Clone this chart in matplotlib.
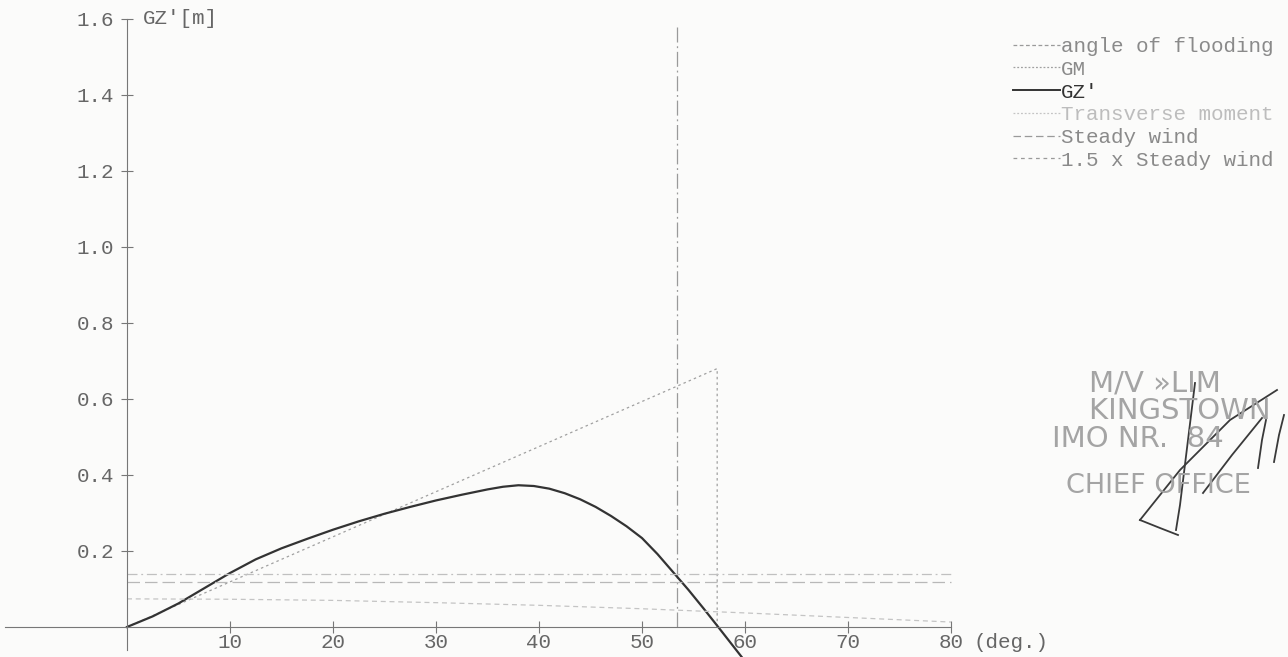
import matplotlib.pyplot as plt
from matplotlib.lines import Line2D

# values
heel = [0, 2.5, 5, 7.5, 10, 12.5, 15, 17.5, 20, 22.5, 25, 27.5, 30, 32.5,
        35, 36.5, 38, 39.5, 41, 42.5, 44, 45.5, 47, 48.5, 50, 51.5, 53,
        54.5, 56, 57.4, 60]
gz = [0, 0.028, 0.062, 0.102, 0.142, 0.178, 0.207, 0.232, 0.256, 0.278,
      0.298, 0.316, 0.333, 0.348, 0.362, 0.369, 0.373, 0.371, 0.364, 0.352,
      0.336, 0.316, 0.292, 0.265, 0.234, 0.192, 0.145, 0.098, 0.048, 0.0,
      -0.09]

gm_x = [0, 57.3, 57.3]
gm_y = [0, 0.68, 0]

flood_angle = 53.4
flood_top = 1.58

trans_x = [0, 10, 20, 30, 40, 50, 60, 70, 80]
trans_y = [0.074, 0.073, 0.070, 0.064, 0.057, 0.048, 0.037, 0.025, 0.013]

wind_x = [0, 80]
steady_wind = 0.118
wind_15 = 0.139

xticks = [10, 20, 30, 40, 50, 60, 70, 80]
yticks = [0.2, 0.4, 0.6, 0.8, 1.0, 1.2, 1.4, 1.6]

FONT = 'Liberation Mono'
W, H = 1288, 657

fig = plt.figure(figsize=(12.88, 6.57), dpi=100)
fig.patch.set_facecolor('#fbfbfa')
ax = fig.add_axes([0, 0, 1, 1])
ax.set_facecolor('#fbfbfa')
ax.set_xlim(-12.33, 112.72)
ax.set_ylim(-0.079, 1.65)

ax.plot([flood_angle, flood_angle], [0, flood_top], color='#9a9a9a',
        lw=0.9, ls=(0, (12, 3, 1.5, 3)))
ax.plot(gm_x, gm_y, color='#a0a0a0', lw=0.9, ls=(0, (2, 2.5)))
ax.plot(heel, gz, color='#333333', lw=1.6)
ax.plot(trans_x, trans_y, color='#c4c4c4', lw=0.9, ls=(0, (4, 3)))
ax.plot(wind_x, [steady_wind, steady_wind], color='#b8b8b8', lw=0.9,
        ls=(0, (10, 4)))
ax.plot(wind_x, [wind_15, wind_15], color='#c0c0c0', lw=0.9,
        ls=(0, (8, 3, 1.5, 3)))

for side in ['top', 'right']:
    ax.spines[side].set_visible(False)
ax.spines['left'].set_position(('data', 0))
ax.spines['bottom'].set_position(('data', 0))
ax.spines['left'].set_bounds(-0.06, 1.6)
ax.spines['bottom'].set_bounds(-11.8, 80)
ax.spines['left'].set_color('#777777')
ax.spines['bottom'].set_color('#777777')

ax.set_xticks(xticks)
ax.set_xticklabels([str(t) for t in xticks])
ax.set_yticks(yticks)
ax.set_yticklabels(['%.1f' % t for t in yticks])
ax.tick_params(direction='inout', length=9, width=0.8, color='#777777',
               labelcolor='#666666', labelsize=15)
ax.tick_params(axis='y', pad=5)
ax.tick_params(axis='x', pad=0)
for lab in ax.get_xticklabels() + ax.get_yticklabels():
    lab.set_fontfamily(FONT)

ax.text(1.5, 1.6, "GZ'[m]", fontfamily=FONT, fontsize=15, color='#666666',
        va='center', ha='left')
ax.text(82.2, -0.041, "(deg.)", fontfamily=FONT, fontsize=15, color='#666666',
        va='center', ha='left')

# legend handles as drawn in the reference's key
handles = [
    Line2D([], [], color='#9a9a9a', lw=0.9, ls=(0, (3, 2))),
    Line2D([], [], color='#a0a0a0', lw=0.9, ls=(0, (1.5, 1.5))),
    Line2D([], [], color='#333333', lw=1.4),
    Line2D([], [], color='#c4c4c4', lw=0.9, ls=(0, (1.5, 1.5))),
    Line2D([], [], color='#9a9a9a', lw=0.9, ls=(0, (6, 3))),
    Line2D([], [], color='#9a9a9a', lw=0.9, ls=(0, (3, 3))),
]
labels = ['angle of flooding', 'GM', "GZ'", 'Transverse moment', 'Steady wind',
          '1.5 x Steady wind']
leg = ax.legend(handles, labels,
                loc='upper left', bbox_to_anchor=(1013 / W, 1 - 37 / H),
                bbox_transform=fig.transFigure, frameon=False,
                prop={'family': FONT, 'size': 15}, handlelength=2.25,
                handletextpad=0.05, labelspacing=0.18, borderpad=0, borderaxespad=0)
text_cols = ['#8a8a8a', '#8a8a8a', '#333333', '#bdbdbd', '#8a8a8a', '#8a8a8a']
for t, c in zip(leg.get_texts(), text_cols):
    t.set_color(c)

# ship's stamp on the scan
fig.text(1052 / W, 1 - 369 / H, "    M/V »LIM\n    KINGSTOWN\nIMO NR.  84",
         fontfamily='DejaVu Sans', fontsize=21, color='#a4a4a4', va='top',
         ha='left', linespacing=1.0)
fig.text(1066 / W, 1 - 486 / H, "CHIEF OFFICE", fontfamily='DejaVu Sans',
         fontsize=19.5, color='#a4a4a4', va='center', ha='left')
# signature strokes across the stamp
sig = [[(1140, 520), (1180, 470), (1230, 420), (1277, 390)],
       [(1195, 383), (1188, 440), (1180, 505), (1176, 530)],
       [(1140, 520), (1160, 528), (1178, 535)],
       [(1203, 493), (1232, 455), (1262, 418)],
       [(1258, 468), (1262, 440), (1266, 420)],
       [(1274, 462), (1279, 435), (1284, 415)]]
for stroke in sig:
    xs = [p[0] / W for p in stroke]
    ys = [1 - p[1] / H for p in stroke]
    fig.add_artist(Line2D(xs, ys, color='#3a3a3a', lw=1.3))

fig.savefig('out.png', dpi=100, facecolor=fig.get_facecolor())
